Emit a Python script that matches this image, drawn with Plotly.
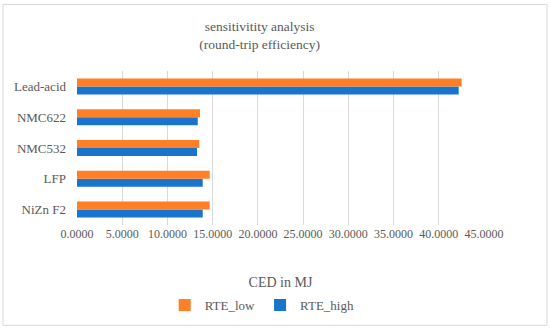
import plotly.graph_objects as go

categories = ["NiZn F2", "LFP", "NMC532", "NMC622", "Lead-acid"]
rte_high = [13.9, 13.9, 13.27, 13.35, 42.2]
rte_low = [14.67, 14.67, 13.52, 13.6, 42.53]
tick_vals = [0, 5, 10, 15, 20, 25, 30, 35, 40, 45]
tick_text = ["0.0000", "5.0000", "10.0000", "15.0000", "20.0000", "25.0000",
             "30.0000", "35.0000", "40.0000", "45.0000"]

FONT = "Liberation Serif, DejaVu Serif, serif"
GRAY = "#595959"

fig = go.Figure()
fig.add_trace(go.Bar(y=categories, x=rte_high, orientation="h", name="RTE_high",
                     marker=dict(color="#1874CD", line=dict(width=0)), legendrank=2))
fig.add_trace(go.Bar(y=categories, x=rte_low, orientation="h", name="RTE_low",
                     marker=dict(color="#FF7F27", line=dict(width=0)), legendrank=1))

fig.update_layout(
    width=550, height=331,
    margin=dict(l=77, r=66, t=71, b=105),
    paper_bgcolor="white", plot_bgcolor="white",
    barmode="group", bargap=0.48, bargroupgap=0,
    font=dict(family=FONT, color=GRAY, size=12),
    title=dict(text="sensitivitity analysis<br>(round-trip efficiency)",
               x=0.472, xanchor="center", y=0.905, yanchor="middle",
               font=dict(family=FONT, size=13.5, color=GRAY)),
    xaxis=dict(range=[0, 45], tickvals=tick_vals, ticktext=tick_text,
               showgrid=True, gridcolor="#D9D9D9", gridwidth=1,
               zeroline=False, showline=False, ticks="", automargin=False,
               tickfont=dict(family=FONT, size=12, color=GRAY),
               title=dict(text="CED in MJ", font=dict(family=FONT, size=14, color=GRAY), standoff=37)),
    yaxis=dict(showgrid=False, zeroline=False, showline=False, ticks="", automargin=False,
               ticklabelstandoff=10,
               tickfont=dict(family=FONT, size=13, color=GRAY)),
    legend=dict(orientation="h", x=0.455, xanchor="center", y=-0.51, yanchor="middle",
                font=dict(family=FONT, size=13, color=GRAY), itemwidth=30,
                tracegroupgap=0),
    showlegend=True,
)
fig.add_shape(type="rect", xref="paper", yref="paper",
              x0=-74/407, x1=1 + 63/407, y0=-101/155, y1=1 + 67/155,
              line=dict(color="#D9D9D9", width=1), fillcolor="rgba(0,0,0,0)", layer="below")

fig.write_html("out.html", post_script="document.body.style.margin='0';",
               config={"displayModeBar": False})
